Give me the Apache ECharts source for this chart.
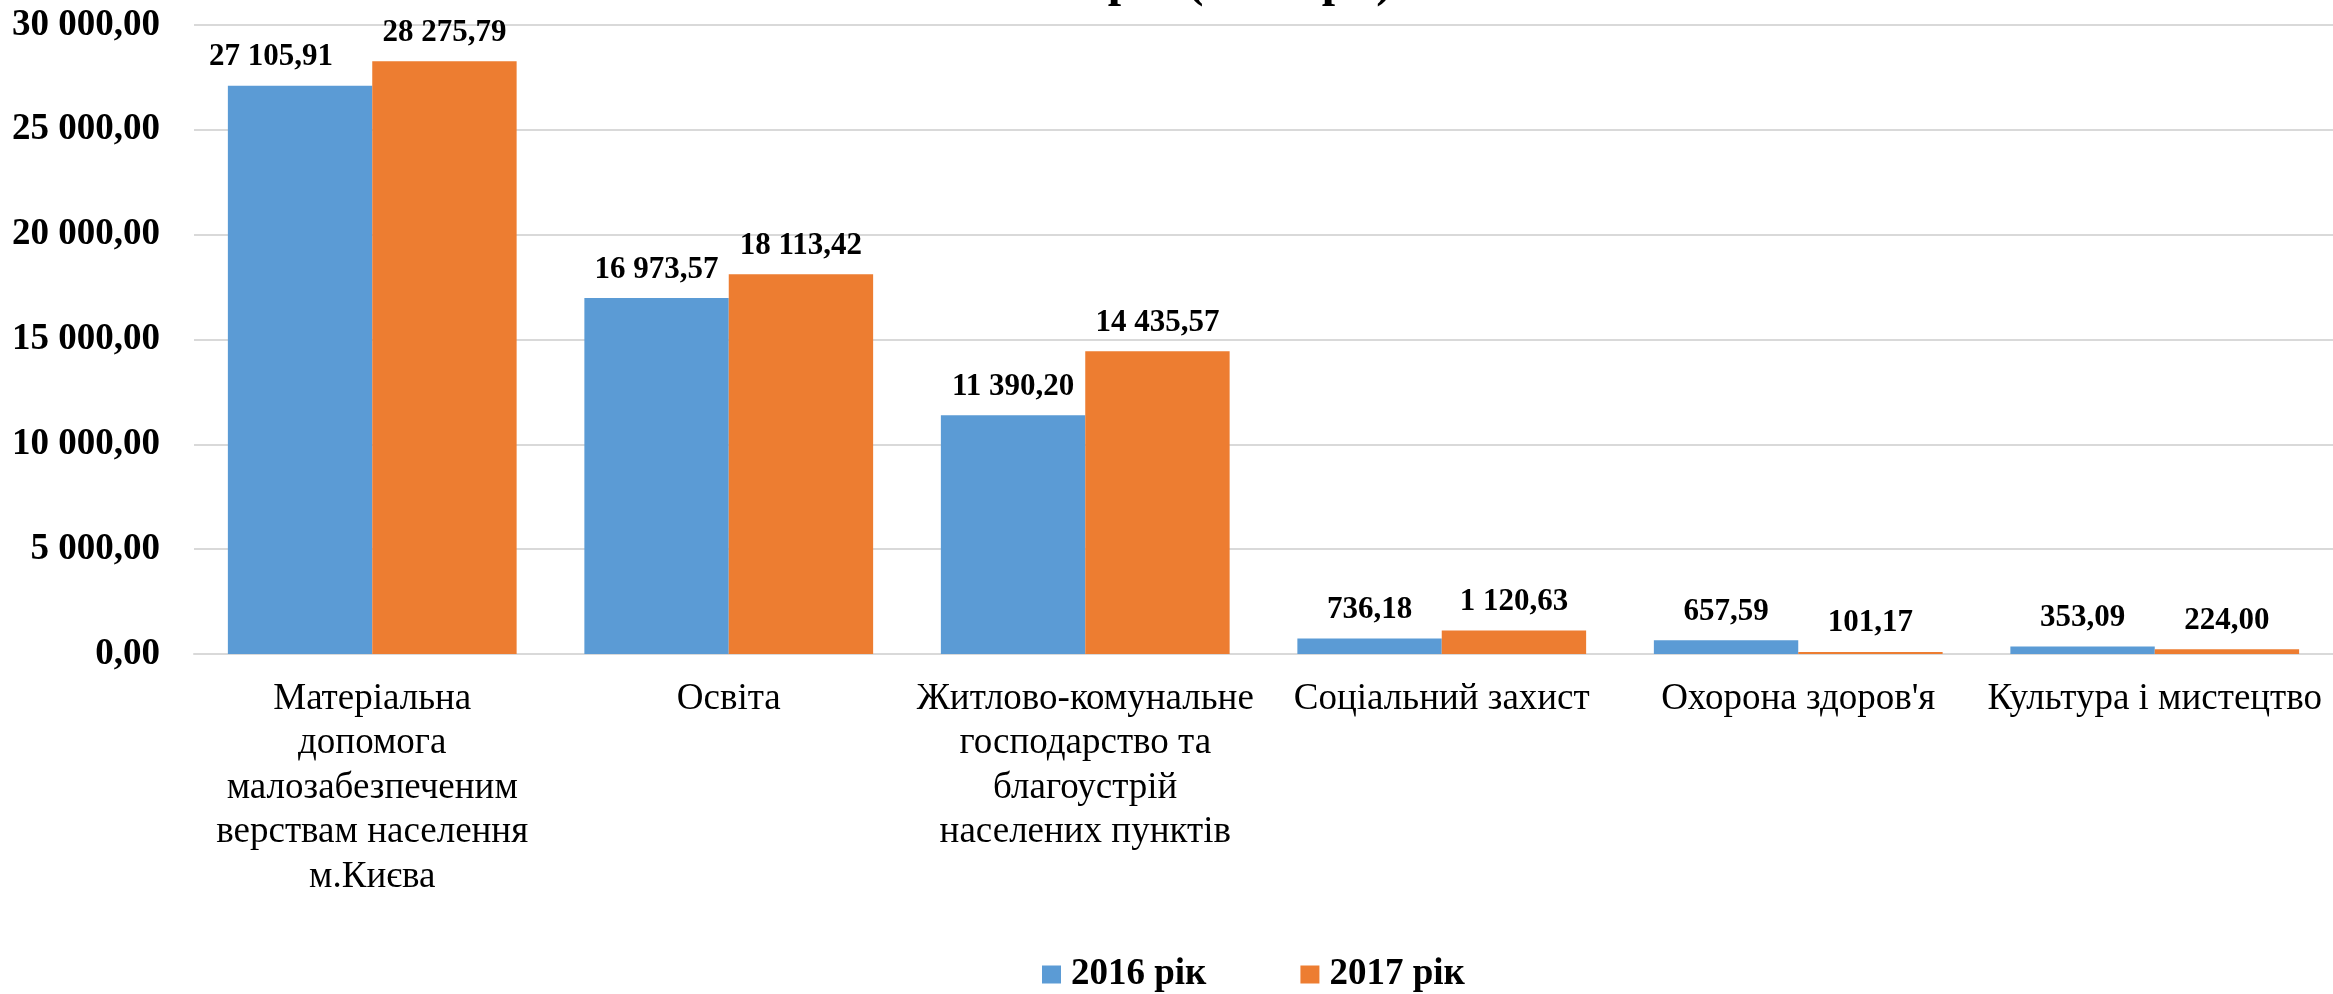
<!DOCTYPE html>
<html>
<head>
<meta charset="utf-8">
<script src="https://cdn.jsdelivr.net/npm/echarts@6/dist/echarts.min.js"></script>
<style>
html,body{margin:0;padding:0;background:#fff;}
#chart{width:2333px;height:994px;}
</style>
</head>
<body>
<div id="chart"></div>
<script>
const categories = [
  'Матеріальна\nдопомога\nмалозабезпеченим\nверствам населення\nм.Києва',
  'Освіта',
  'Житлово-комунальне\nгосподарство та\nблагоустрій\nнаселених пунктів',
  'Соціальний захист',
  "Охорона здоров'я",
  'Культура і мистецтво'
];
const seriesNames = ['2016 рік', '2017 рік'];
const values2016 = [27105.91, 16973.57, 11390.20, 736.18, 657.59, 353.09];
const values2017 = [28275.79, 18113.42, 14435.57, 1120.63, 101.17, 224.00];
const yTicks = [0, 5000, 10000, 15000, 20000, 25000, 30000];
const titleText = 'рік (тис. грн)';

const FONT = 'Liberation Serif';

function fmt(v) {
  const s = Number(v).toFixed(2);
  const parts = s.split('.');
  const intPart = parts[0].replace(/\B(?=(\d{3})+(?!\d))/g, ' ');
  return intPart + ',' + parts[1];
}

const chart = echarts.init(document.getElementById('chart'), null, {renderer: 'canvas'});
const labelStyle = {
  show: true,
  position: 'top',
  distance: 13,
  fontFamily: FONT,
  fontWeight: 'bold',
  fontSize: 31,
  color: '#000',
  formatter: p => fmt(p.value)
};
// first 2016 label is nudged left in the original
const data2016 = values2016.map((v, i) => i === 0 ? {value: v, label: {offset: [-29, 0]}} : v);
const data2017 = values2017.slice();

chart.setOption({
  animation: false,
  backgroundColor: '#fff',
  textStyle: {fontFamily: FONT},
  graphic: [{
    type: 'text',
    x: 1250,
    y: -16,
    style: {
      text: titleText,
      align: 'center',
      verticalAlign: 'middle',
      fontFamily: FONT,
      fontWeight: 'bold',
      fontSize: 48,
      fill: '#000'
    }
  }],
  legend: {
    data: seriesNames,
    left: 1042,
    top: 956,
    padding: 0,
    itemWidth: 19,
    itemHeight: 18,
    itemGap: 94,
    icon: 'rect',
    textStyle: {
      fontFamily: FONT,
      fontWeight: 'bold',
      fontSize: 37,
      color: '#000',
      padding: [0, 0, 0, 5]
    }
  },
  grid: {
    left: 194,
    right: 0,
    top: 25,
    bottom: 340,
    containLabel: false
  },
  xAxis: {
    type: 'category',
    data: categories,
    axisTick: {show: false},
    axisLine: {show: true, lineStyle: {color: '#d9d9d9', width: 2}},
    axisLabel: {
      interval: 0,
      margin: 23,
      fontFamily: FONT,
      fontSize: 37,
      lineHeight: 44.5,
      color: '#000'
    }
  },
  yAxis: {
    type: 'value',
    min: yTicks[0],
    max: yTicks[yTicks.length - 1],
    interval: yTicks[1] - yTicks[0],
    axisLine: {show: false},
    axisTick: {show: false},
    splitLine: {lineStyle: {color: '#d9d9d9', width: 2}},
    axisLabel: {
      margin: 34,
      fontFamily: FONT,
      fontWeight: 'bold',
      fontSize: 37,
      color: '#000',
      formatter: v => fmt(v)
    }
  },
  series: [
    {
      name: seriesNames[0],
      type: 'bar',
      data: data2016,
      barGap: '0%',
      barCategoryGap: '19%',
      itemStyle: {color: '#5B9BD5'},
      label: labelStyle
    },
    {
      name: seriesNames[1],
      type: 'bar',
      data: data2017,
      barGap: '0%',
      barCategoryGap: '19%',
      itemStyle: {color: '#ED7D31'},
      label: labelStyle
    }
  ]
});
</script>
</body>
</html>
